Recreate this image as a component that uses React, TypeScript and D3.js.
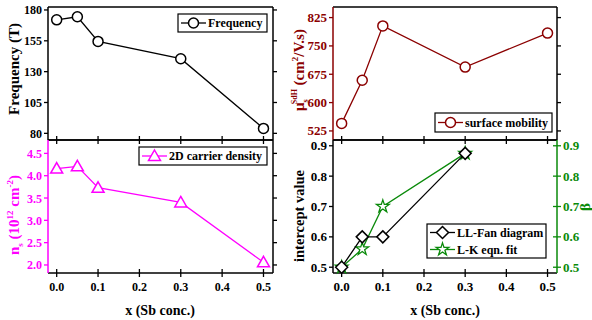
import React from "react";
import * as d3 from "d3";

const xs = [0.0, 0.05, 0.1, 0.3, 0.5];
const frequency = [172, 174.5, 154.5, 140.5, 84];
const carrierDensity = [4.16, 4.21, 3.73, 3.40, 2.06];
const mobility = [545, 659, 803, 694, 784];
const xsFan = [0.0, 0.05, 0.1, 0.3];
const llFan = [0.5, 0.6, 0.6, 0.875];
const lkFit = [0.5, 0.56, 0.7, 0.875];

const xTicks = [0, 0.1, 0.2, 0.3, 0.4, 0.5];
const freqTicks = [80, 105, 130, 155, 180];
const densTicks = [2.0, 2.5, 3.0, 3.5, 4.0, 4.5];
const mobTicks = [525, 600, 675, 750, 825];
const interTicks = [0.5, 0.6, 0.7, 0.8, 0.9];

const MAGENTA = "#ff00ff";
const DRED = "#8b0000";
const GREEN = "#0a8a0a";
const FONT = "'Liberation Serif', 'Times New Roman', serif";

type AxisDef = { ticks: number[]; fmt: (v: number) => string; color: string; labels: boolean; side: "left" | "right"; cross?: boolean };

function Frame({ x0, x1, y0, y1, xScale, yScale, left, right, bottomLabels, fs }: any) {
  const T = 4;
  const els: any[] = [];
  xTicks.forEach((t, i) => {
    const x = xScale(t);
    els.push(<line key={"xb" + i} x1={x} x2={x} y1={y1 - T} y2={y1 + T} stroke="#000" strokeWidth={1.3} />);
    if (bottomLabels)
      els.push(
        <text key={"xl" + i} x={x} y={y1 + 18} textAnchor="middle" fontSize={fs} fontWeight="bold" fontFamily={FONT}>
          {d3.format(".1f")(t)}
        </text>
      );
  });
  const axisEls = (a: AxisDef, xPos: number, key: string) =>
    a.ticks.map((t, i) => {
      const y = yScale(t);
      const dir = a.side === "left" ? -1 : 1;
      return (
        <g key={key + i}>
          <line x1={a.cross ? xPos - T : xPos} x2={a.cross ? xPos + T : xPos + dir * T} y1={y} y2={y} stroke={a.color} strokeWidth={1.3} />
          {a.labels && (
            <text
              x={a.side === "left" ? xPos - 6 : xPos + 6}
              y={y + 4.5}
              textAnchor={a.side === "left" ? "end" : "start"}
              fontSize={fs}
              fontWeight="bold"
              fontFamily={FONT}
              fill={a.color}
            >
              {a.fmt(t)}
            </text>
          )}
        </g>
      );
    });
  return (
    <g>
      <line x1={x0} x2={x1} y1={y0} y2={y0} stroke="#000" strokeWidth={1.5} />
      <line x1={x0} x2={x1} y1={y1} y2={y1} stroke="#000" strokeWidth={1.5} />
      <line x1={x0} x2={x0} y1={y0} y2={y1} stroke={left.color} strokeWidth={1.5} />
      <line x1={x1} x2={x1} y1={y0} y2={y1} stroke={right.color} strokeWidth={1.5} />
      {els}
      {axisEls(left, x0, "l")}
      {axisEls(right, x1, "r")}
    </g>
  );
}

function circleMarker(x: number, y: number, color: string, key: string) {
  return <circle key={key} cx={x} cy={y} r={5} fill="#fff" stroke={color} strokeWidth={1.5} />;
}
function triMarker(x: number, y: number, color: string, key: string) {
  const s = 6;
  return <path key={key} d={`M${x},${y - s}L${x + s},${y + s * 0.75}L${x - s},${y + s * 0.75}Z`} fill="#fff" stroke={color} strokeWidth={1.5} />;
}
function diaMarker(x: number, y: number, color: string, key: string) {
  const s = 6;
  return <path key={key} d={`M${x},${y - s}L${x + s},${y}L${x},${y + s}L${x - s},${y}Z`} fill="#fff" stroke={color} strokeWidth={1.5} />;
}
function starMarker(x: number, y: number, color: string, key: string) {
  const p = d3.symbol(d3.symbolStar, 50)();
  return <path key={key} d={p || ""} transform={`translate(${x},${y})`} fill="#fff" stroke={color} strokeWidth={1.3} />;
}

function Series({ xv, yv, xScale, yScale, color, marker }: any) {
  const line = d3.line<number>().x((_, i) => xScale(xv[i])).y((d) => yScale(d));
  return (
    <g>
      <path d={line(yv) || ""} fill="none" stroke={color} strokeWidth={1.3} />
      {yv.map((v: number, i: number) => marker(xScale(xv[i]), yScale(v), color, "m" + i))}
    </g>
  );
}

function Legend({ x, y, w, h, items }: any) {
  return (
    <g>
      <rect x={x} y={y} width={w} height={h} fill="#fff" stroke="#000" strokeWidth={1.2} />
      {items.map((it: any, i: number) => {
        const cy = y + (h / items.length) * (i + 0.5);
        return (
          <g key={i}>
            <line x1={x + 3} x2={x + 28} y1={cy} y2={cy} stroke={it.color} strokeWidth={1.3} />
            {it.marker(x + 15.5, cy, it.color, "lg" + i)}
            <text x={x + 30} y={cy + 4.3} fontSize={12} fontWeight="bold" fontFamily={FONT}>
              {it.label}
            </text>
          </g>
        );
      })}
    </g>
  );
}

export default function App() {
  const L = { x0: 48, x1: 273 };
  const R = { x0: 333, x1: 557 };
  const yTop = { y0: 7, y1: 140 };
  const yBot = { y0: 140, y1: 273 };
  const xDom: [number, number] = [-0.021, 0.523];
  const xL = d3.scaleLinear().domain(xDom).range([L.x0, L.x1]);
  const xR = d3.scaleLinear().domain(xDom).range([R.x0, R.x1]);
  const yFreq = d3.scaleLinear().domain([74.6, 182.4]).range([yTop.y1, yTop.y0]);
  const yDens = d3.scaleLinear().domain([1.82, 4.8]).range([yBot.y1, yBot.y0]);
  const yMob = d3.scaleLinear().domain([501, 853]).range([yTop.y1, yTop.y0]);
  const yInt = d3.scaleLinear().domain([0.481, 0.919]).range([yBot.y1, yBot.y0]);

  const f0 = (v: number) => d3.format("d")(v);
  const f1 = (v: number) => d3.format(".1f")(v);

  return (
    <svg width={592} height={320} style={{ position: "absolute", left: 0, top: 0, background: "#fff" }}>
      <rect width={592} height={320} fill="#fff" />
      {/* top left */}
      <Frame {...L} {...yTop} xScale={xL} yScale={yFreq} fs={12}
        left={{ ticks: freqTicks, fmt: f0, color: "#000", labels: true, side: "left" }}
        right={{ ticks: freqTicks, fmt: f0, color: "#000", labels: false, side: "right" }} />
      <Series xv={xs} yv={frequency} xScale={xL} yScale={yFreq} color="#000" marker={circleMarker} />
      <Legend x={178} y={14} w={89} h={18} items={[{ label: "Frequency", color: "#000", marker: circleMarker }]} />

      {/* bottom left */}
      <Frame {...L} {...yBot} xScale={xL} yScale={yDens} bottomLabels fs={12}
        left={{ ticks: densTicks, fmt: f1, color: MAGENTA, labels: true, side: "left" }}
        right={{ ticks: densTicks, fmt: f1, color: "#000", labels: false, side: "right" }} />
      <Series xv={xs} yv={carrierDensity} xScale={xL} yScale={yDens} color={MAGENTA} marker={triMarker} />
      <Legend x={139} y={147} w={128} h={18} items={[{ label: "2D carrier density", color: MAGENTA, marker: triMarker }]} />

      {/* top right */}
      <Frame {...R} {...yTop} xScale={xR} yScale={yMob} fs={13}
        left={{ ticks: mobTicks, fmt: f0, color: DRED, labels: true, side: "left" }}
        right={{ ticks: mobTicks, fmt: f0, color: "#000", labels: false, side: "right" }} />
      <Series xv={xs} yv={mobility} xScale={xR} yScale={yMob} color={DRED} marker={circleMarker} />
      <Legend x={435} y={113} w={117} h={19} items={[{ label: "surface mobility", color: DRED, marker: circleMarker }]} />

      {/* bottom right */}
      <Frame {...R} {...yBot} xScale={xR} yScale={yInt} bottomLabels fs={13}
        left={{ ticks: interTicks, fmt: f1, color: "#000", labels: true, side: "left" }}
        right={{ ticks: interTicks, fmt: f1, color: GREEN, labels: true, side: "right", cross: true }} />
      <Series xv={xsFan} yv={lkFit} xScale={xR} yScale={yInt} color={GREEN} marker={starMarker} />
      <Series xv={xsFan} yv={llFan} xScale={xR} yScale={yInt} color="#000" marker={diaMarker} />
      <Legend x={427} y={224} w={119} h={34} items={[
        { label: "LL-Fan diagram", color: "#000", marker: diaMarker },
        { label: "L-K eqn. fit", color: GREEN, marker: starMarker },
      ]} />

      {/* axis titles */}
      <text transform="translate(19,69) rotate(-90)" textAnchor="middle" fontSize={15} fontWeight="bold" fontFamily={FONT}>
        Frequency (T)
      </text>
      <text transform="translate(19,215) rotate(-90)" textAnchor="middle" fontSize={15} fontWeight="bold" fontFamily={FONT} fill={MAGENTA}>
        n<tspan fontSize={9} dy={4}>s</tspan>
        <tspan dy={-4}> (10</tspan>
        <tspan fontSize={9} dy={-6}>12</tspan>
        <tspan dy={6}> cm</tspan>
        <tspan fontSize={9} dy={-6}>-2</tspan>
        <tspan dy={6}>)</tspan>
      </text>
      <text transform="translate(304,70) rotate(-90)" textAnchor="middle" fontSize={15} fontWeight="bold" fontFamily={FONT} fill={DRED}>
        μ<tspan fontSize={8} dy={4}>s</tspan>
        <tspan fontSize={8} dx={-5} dy={-11}>SdH</tspan>
        <tspan dy={7}> (cm</tspan>
        <tspan fontSize={9} dy={-6}>2</tspan>
        <tspan dy={6}>/V.s)</tspan>
      </text>
      <text transform="translate(304,216) rotate(-90)" textAnchor="middle" fontSize={14.5} fontWeight="bold" fontFamily={FONT}>
        intercept value
      </text>
      <text transform="translate(590,207) rotate(-90)" textAnchor="middle" fontSize={15} fontWeight="bold" fontFamily={FONT} fill={GREEN}>
        β
      </text>
      <text x={160} y={315} textAnchor="middle" fontSize={14} fontWeight="bold" fontFamily={FONT}>
        x (Sb conc.)
      </text>
      <text x={445} y={315} textAnchor="middle" fontSize={14} fontWeight="bold" fontFamily={FONT}>
        x (Sb conc.)
      </text>
    </svg>
  );
}
